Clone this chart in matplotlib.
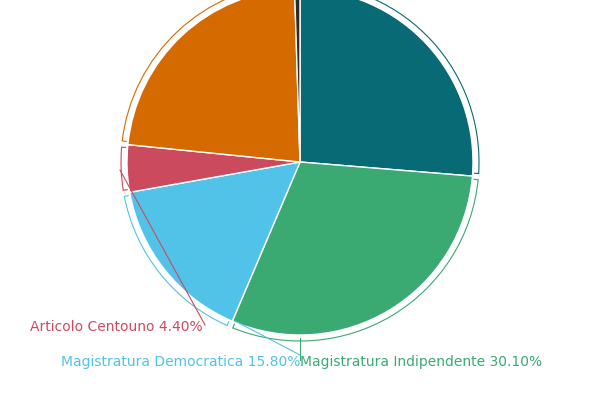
import numpy as np
import matplotlib.pyplot as plt
from matplotlib.patches import Arc

labels = ['Teal', 'Magistratura Indipendente', 'Magistratura Democratica',
          'Articolo Centouno', 'Orange', 'Dark']
values = [26.3, 30.1, 15.8, 4.4, 22.9, 0.5]
colors = ['#076a74', '#3aaa72', '#52c3e8', '#cc4a5e', '#d46a00', '#2b2b2b']
shown = {1: 'Magistratura Indipendente 30.10%',
         2: 'Magistratura Democratica 15.80%',
         3: 'Articolo Centouno 4.40%'}

fig = plt.figure(figsize=(6, 4), dpi=100)
ax = fig.add_axes([0, 0, 1, 1])

cx, cy, r = 300, 238, 173
ax.pie(values, colors=colors, startangle=90, counterclock=False, center=(cx, cy),
       radius=r, wedgeprops=dict(edgecolor='white', linewidth=1))
ax.set_aspect('auto')
ax.set_xlim(0, 600)
ax.set_ylim(0, 400)
ax.axis('off')

# bracket arcs around each slice
start = 90.0
for i, v in enumerate(values):
    span = v * 3.6
    a1, a2 = start - span, start
    pad = min(1.0, span * 0.2)
    rb = r + 6
    ax.add_patch(Arc((cx, cy), 2 * rb, 2 * rb, theta1=a1 + pad, theta2=a2 - pad,
                     color=colors[i], lw=0.8))
    for a in (a1 + pad, a2 - pad):
        t = np.radians(a)
        ax.plot([cx + (rb - 4) * np.cos(t), cx + rb * np.cos(t)],
                [cy + (rb - 4) * np.sin(t), cy + rb * np.sin(t)], color=colors[i], lw=0.8)
    start = a1

ax.plot([300, 300], [62, 40], color=colors[1], lw=0.8)
ax.text(300, 38, shown[1], color=colors[1], fontsize=10, ha='left', va='center')
ax.plot([235, 300], [79, 45], color=colors[2], lw=0.8)
ax.text(300, 38, shown[2], color=colors[2], fontsize=10, ha='right', va='center')
ax.plot([120, 205], [230, 75], color=colors[3], lw=0.8)
ax.text(203, 73, shown[3], color=colors[3], fontsize=10, ha='right', va='center')

fig.savefig('out.png', dpi=100)
